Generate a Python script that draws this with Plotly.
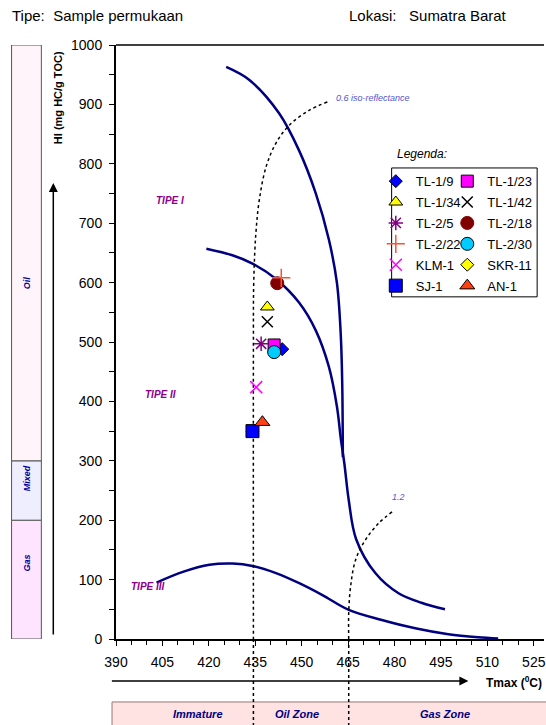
import plotly.graph_objects as go

# ---------------- data ----------------
sample_names = ["TL-1/9", "TL-1/23", "TL-1/34", "TL-1/42", "TL-2/5", "TL-2/18",
                "TL-2/22", "TL-2/30", "KLM-1", "SKR-11", "SJ-1", "AN-1"]
sample_tmax = [443.7, 441.1, 438.9, 438.9, 436.9, 442.1, 443.4, 441.1, 435.3, 434.1, 434.1, 437.3]
sample_hi = [488, 495, 559, 534, 497, 599, 608, 483, 424, 350, 350, 365]

# kerogen type evolution curves
type1_tmax = [425.6, 433.1, 442.7, 449.1, 454.5, 458.8, 461.4, 462.6, 463.1, 463.3]
type1_hi = [963, 941, 885, 823, 751, 672, 599, 515, 431, 306]
type2_tmax = [419.2, 427.6, 434.1, 441.7, 449.2, 454.5, 458.8, 461.4, 462.7, 463.8, 465.2, 467.6, 473.8, 481.3, 488.7, 496.3]
type2_hi = [657, 646, 632, 606, 566, 520, 458, 391, 335, 295, 234, 168, 111, 77, 61, 50]
type3_tmax = [403.1, 411.6, 420.2, 427.7, 434.1, 441.7, 449.2, 456.7, 465.2, 475.9, 486.7, 497.4, 507.0, 513.5]
type3_hi = [95, 113, 125, 127, 123, 111, 94, 74, 49, 32, 18, 8, 3, 1]

# iso-reflectance lines
iso06_tmax = [458.3, 452.4, 446.0, 441.7, 438.5, 436.3, 435.2, 434.5, 434.4, 434.4]
iso06_hi = [904, 890, 865, 835, 795, 739, 683, 599, 487, 0]
iso12_tmax = [479.2, 474.9, 470.6, 467.4, 465.8, 465.2, 465.2]
iso12_hi = [214, 195, 167, 133, 88, 44, 0]

x_ticks = [390, 405, 420, 435, 450, 465, 480, 495, 510, 525]
y_ticks = [0, 100, 200, 300, 400, 500, 600, 700, 800, 900, 1000]

# hydrocarbon type bands (HI)
band_names = ["Gas", "Mixed", "Oil"]
band_lo = [0, 200, 300]
band_hi = [200, 300, 1000]
band_label_hi = [128, 270, 600]

# maturity zones (Tmax label centres)
zone_names = ["Immature", "Oil Zone", "Gas Zone"]
zone_label_tmax = [416.4, 448.5, 496.4]

# ---------------- styles ----------------
sym = {"TL-1/9": "diamond", "TL-1/23": "square", "TL-1/34": "triangle-up", "TL-1/42": "x-thin",
       "TL-2/5": "asterisk", "TL-2/18": "circle", "TL-2/22": "cross-thin", "TL-2/30": "circle",
       "KLM-1": "x-thin", "SKR-11": "diamond", "SJ-1": "square", "AN-1": "triangle-up"}
fill = {"TL-1/9": "#0000FF", "TL-1/23": "#FF00FF", "TL-1/34": "#FFFF00", "TL-1/42": "#000000",
        "TL-2/5": "#800080", "TL-2/18": "#800000", "TL-2/22": "#FF5030", "TL-2/30": "#00CCFF",
        "KLM-1": "#FF00FF", "SKR-11": "#FFFF00", "SJ-1": "#0000FF", "AN-1": "#FF4010"}
edge = {"TL-1/9": "#000000", "TL-1/23": "#000000", "TL-1/34": "#000000", "TL-1/42": "#000000",
        "TL-2/5": "#800080", "TL-2/18": "#800000", "TL-2/22": "#FF5030", "TL-2/30": "#000000",
        "KLM-1": "#FF00FF", "SKR-11": "#000000", "SJ-1": "#000000", "AN-1": "#000000"}
size = {"TL-1/9": 10, "TL-1/23": 12, "TL-1/34": 12, "TL-1/42": 11, "TL-2/5": 12, "TL-2/18": 13,
        "TL-2/22": 13, "TL-2/30": 13, "KLM-1": 12, "SKR-11": 10, "SJ-1": 13, "AN-1": 13}
col1 = ["TL-1/9", "TL-1/34", "TL-2/5", "TL-2/22", "KLM-1", "SJ-1"]

NAVY = "#000080"
FONT = "Arial, 'Liberation Sans', sans-serif"

fig = go.Figure()

for xs, ys in [(type1_tmax, type1_hi), (type2_tmax, type2_hi), (type3_tmax, type3_hi)]:
    fig.add_trace(go.Scatter(x=xs, y=ys, mode="lines", showlegend=False, hoverinfo="skip",
                             line=dict(color=NAVY, width=2.5, shape="spline", smoothing=1.0)))
for xs, ys in [(iso06_tmax, iso06_hi), (iso12_tmax, iso12_hi)]:
    fig.add_trace(go.Scatter(x=xs, y=ys, mode="lines", showlegend=False, hoverinfo="skip",
                             line=dict(color="black", width=1.5, dash="dot", shape="spline")))

# drawing order: SKR-11 sits underneath the other markers
draw_order = ["SKR-11"] + [n for n in sample_names if n != "SKR-11"]
for n in draw_order:
    i = sample_names.index(n)
    fig.add_trace(go.Scatter(
        x=[sample_tmax[i]], y=[sample_hi[i]], mode="markers", name=n,
        legend="legend" if n in col1 else "legend2",
        legendgroup=n, legendrank=i + 1,
        marker=dict(symbol=sym[n], size=size[n], color=fill[n],
                    line=dict(color=edge[n], width=1.5 if sym[n] in ("x-thin", "cross-thin", "asterisk") else 1))))

shapes = []
# left band bar
band_fill = {"Gas": "#FFE4FF", "Mixed": "#EEEEFF", "Oil": "#FFF4FA"}
for n, lo, hi_ in zip(band_names, band_lo, band_hi):
    shapes.append(dict(type="rect", xref="paper", yref="y", x0=-0.244, x1=-0.1744, y0=lo, y1=hi_,
                       fillcolor=band_fill[n], line=dict(color="#555555", width=1), layer="below"))
# bottom zone bar
shapes.append(dict(type="rect", xref="paper", yref="paper", x0=-0.0093, x1=1.01, y0=-0.106, y1=-0.25,
                   fillcolor="#FFE2E2", line=dict(color="#997777", width=1), layer="below"))
# iso-reflectance extensions below the axis
for xv in [iso06_tmax[-1], iso12_tmax[-1]]:
    shapes.append(dict(type="line", xref="x", yref="paper", x0=xv, x1=xv, y0=0, y1=-0.2,
                       line=dict(color="black", width=1.5, dash="dot")))
# top frame line
shapes.append(dict(type="line", xref="paper", yref="paper", x0=0, x1=1, y0=1, y1=1,
                   line=dict(color="black", width=1.5)))
# legend box
shapes.append(dict(type="rect", xref="paper", yref="paper", x0=0.644, x1=0.984, y0=0.576, y1=0.793,
                   fillcolor="white", line=dict(color="black", width=1), layer="below"))

ann = []
ann.append(dict(text="Tipe:&nbsp;&nbsp;Sample permukaan", xref="paper", yref="paper", x=-0.2465, y=1.0505,
                xanchor="left", yanchor="middle", showarrow=False, font=dict(size=15)))
ann.append(dict(text="Lokasi:&nbsp;&nbsp;&nbsp;Sumatra Barat", xref="paper", yref="paper", x=0.5395, y=1.0505,
                xanchor="left", yanchor="middle", showarrow=False, font=dict(size=15)))
ann.append(dict(text="<b>HI (mg HC/g TOC)</b>", xref="paper", yref="paper", x=-0.1349, y=0.911,
                xanchor="center", yanchor="middle", textangle=-90, showarrow=False, font=dict(size=11)))
ann.append(dict(text="<b>Tmax (<sup>0</sup>C)</b>", xref="paper", yref="paper", x=1.0, y=-0.0724,
                xanchor="right", yanchor="middle", showarrow=False, font=dict(size=12)))
ann.append(dict(text="<i>Legenda:</i>", xref="paper", yref="paper", x=0.651, y=0.8165,
                xanchor="left", yanchor="middle", showarrow=False, font=dict(size=12)))
# arrows
ann.append(dict(text="", xref="paper", yref="paper", x=-0.1465, y=0.7677, ax=0, ay=453,
                showarrow=True, arrowhead=2, arrowsize=1.2, arrowwidth=1.5, arrowcolor="black", standoff=0))
ann.append(dict(text="", xref="paper", yref="paper", x=0.8233, y=-0.0707, ax=-358, ay=0,
                showarrow=True, arrowhead=2, arrowsize=1.2, arrowwidth=1.5, arrowcolor="black", standoff=0))
# band labels
for n, yv in zip(band_names, band_label_hi):
    ann.append(dict(text="<b><i>%s</i></b>" % n, xref="paper", yref="y", x=-0.209, y=yv, textangle=-90,
                    xanchor="center", yanchor="middle",
                    showarrow=False, font=dict(size=9, color="#000099")))
# zone labels
for n, xv in zip(zone_names, zone_label_tmax):
    ann.append(dict(text="<b><i>%s</i></b>" % n, xref="x", yref="paper", x=xv, y=-0.126,
                    xanchor="center", yanchor="middle",
                    showarrow=False, font=dict(size=11, color="#000080")))
# kerogen type labels
for t, xv, yv in [("TIPE I", 407.4, 739), ("TIPE II", 404.5, 411), ("TIPE III", 400.3, 89)]:
    ann.append(dict(text="<b><i>%s</i></b>" % t, xref="x", yref="y", x=xv, y=yv, showarrow=False,
                    font=dict(size=10, color="#8B008B")))
ann.append(dict(text="<i>0.6 iso-reflectance</i>", xref="x", yref="y", x=460.4, y=911, xanchor="left",
                showarrow=False, font=dict(size=9, color="#5555CC")))
ann.append(dict(text="<i>1.2</i>", xref="x", yref="y", x=481.3, y=239, showarrow=False,
                font=dict(size=9, color="#5555CC")))

legend_common = dict(y=0.796, xanchor="left", yanchor="top", bgcolor="rgba(0,0,0,0)",
                     borderwidth=0, font=dict(size=13), itemsizing="trace",
                     traceorder="grouped", tracegroupgap=1)

fig.update_layout(
    width=546, height=725,
    margin=dict(l=116, r=0, t=45, b=86),
    paper_bgcolor="white", plot_bgcolor="white",
    font=dict(family=FONT, size=14, color="black"),
    xaxis=dict(range=[390, 528.3], tickvals=x_ticks, showgrid=False, zeroline=False,
               showline=True, linecolor="black", linewidth=1.5, ticks="outside", ticklen=5,
               tickcolor="black", tickfont=dict(size=14), ticklabelstandoff=4,
               ticklabeloverflow="allow",
               minor=dict(dtick=5, tick0=390, ticks="outside", ticklen=4, tickcolor="black")),
    yaxis=dict(range=[0, 1000], tickvals=y_ticks, showgrid=False, zeroline=False,
               showline=True, linecolor="black", linewidth=2, ticks="outside", ticklen=5,
               tickcolor="black", tickfont=dict(size=14), ticklabelstandoff=4,
               minor=dict(dtick=50, tick0=0, ticks="outside", ticklen=5, tickcolor="black")),
    legend=dict(x=0.607, **legend_common),
    legend2=dict(x=0.774, **legend_common),
    shapes=shapes, annotations=ann,
)

fig.write_html("out.html", config={"displayModeBar": False},
               post_script="document.body.style.margin='0';")
